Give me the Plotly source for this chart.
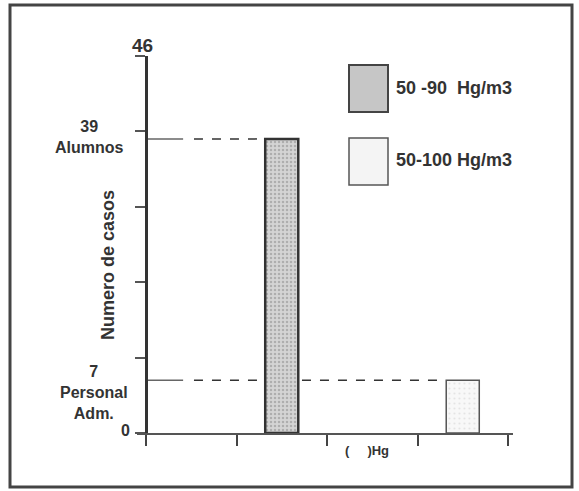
import plotly.graph_objects as go

# ---- data ----
series_names = ["50 -90\u00a0\u00a0Hg/m3", "50-100 Hg/m3"]
groups = ["Alumnos", "Personal<br>Adm."]
values = [39, 7]              # numero de casos
bins = [2, 4]                 # Hg class slot (1-based) where each bar sits
x_bins = [0, 1, 2, 3, 4]      # class boundaries (x ticks)
y_ticks = [0, 10, 20, 30, 40, 50]
y_top_label = "46"

W, H = 579, 491
L, R, T, B = 137, 513, 56, 433   # plot area in px


def px(xp):
    return (xp - L) / (R - L)


def py(yp):
    return (B - yp) / (B - T)


FONT = "Liberation Sans, Arial, sans-serif"
INK = "#333333"
BAR_W = 0.365

xs = [b - 0.5 for b in bins]

fills = [
    dict(color="#d2d2d2", line=dict(color="#333333", width=2.5),
         pattern=dict(shape=".", bgcolor="#d4d4d4", fgcolor="#888888", size=4, solidity=0.3)),
    dict(color="#f7f7f7", line=dict(color="#555555", width=1.5),
         pattern=dict(shape=".", bgcolor="#f8f8f8", fgcolor="#d0d0d0", size=5, solidity=0.15)),
]

fig = go.Figure()
for i in range(len(values)):
    fig.add_trace(go.Bar(x=[xs[i]], y=[values[i]], width=BAR_W, marker=fills[i],
                         name=series_names[i], showlegend=False, hoverinfo="skip"))

shapes = []
# reference level lines (solid start, dashed to bar)
ends = [xs[0] - BAR_W / 2, xs[1] - BAR_W / 2 - 0.07]
for v, e in zip(values, ends):
    shapes.append(dict(type="line", xref="x", yref="y", x0=0, x1=0.41, y0=v, y1=v,
                       layer="below", line=dict(color="#666666", width=1.5)))
    shapes.append(dict(type="line", xref="x", yref="y", x0=0.53, x1=e, y0=v, y1=v,
                       layer="below", line=dict(color="#333333", width=1.5, dash="dash")))
# legend boxes
shapes.append(dict(type="rect", xref="paper", yref="paper", x0=px(349), x1=px(388),
                   y0=py(112), y1=py(65), fillcolor="#c6c6c6", line=dict(color="#444444", width=2)))
shapes.append(dict(type="rect", xref="paper", yref="paper", x0=px(349), x1=px(388),
                   y0=py(185), y1=py(138), fillcolor="#f4f4f4", line=dict(color="#555555", width=1.5)))
# outer frame
shapes.append(dict(type="rect", xref="paper", yref="paper", x0=px(10), x1=px(572),
                   y0=py(487), y1=py(5), line=dict(color="#444444", width=3)))


def ann(text, xp, yp, size, bold=True, xanchor="center", angle=0):
    return dict(text=f"<b>{text}</b>" if bold else text, x=px(xp), y=py(yp),
                xref="paper", yref="paper", showarrow=False, xanchor=xanchor, yanchor="middle",
                textangle=angle, font=dict(family=FONT, size=size, color=INK))


annotations = [
    ann(y_top_label, 142, 45, 19),
    ann(f"{values[0]}<br>{groups[0]}", 89, 137, 16),
    ann(f"{values[1]}<br>{groups[1]}", 94, 392, 16),
    ann(str(y_ticks[0]), 125, 430, 16),
    ann("Numero de casos", 108, 265, 18, angle=-90),
    ann("(\u00a0\u00a0\u00a0\u00a0\u00a0)Hg", 367, 450, 13),
    ann(series_names[0], 394, 88, 18, xanchor="left"),
    ann(series_names[1], 394, 160, 18, xanchor="left"),
]

fig.update_layout(
    width=W, height=H,
    margin=dict(l=L, r=W - R, t=T, b=H - B, autoexpand=False),
    paper_bgcolor="white", plot_bgcolor="white",
    shapes=shapes, annotations=annotations,
    showlegend=False,
    xaxis=dict(range=[-(146 - L) / ((508 - 146) / 4), 4 + (R - 508) / ((508 - 146) / 4)],
               tickvals=x_bins, showticklabels=False, ticks="outside", ticklen=11,
               tickwidth=2, tickcolor="#444444", showline=True, linecolor="#555555",
               linewidth=2, showgrid=False, zeroline=False, fixedrange=True),
    yaxis=dict(range=[0, 50], tickvals=y_ticks, showticklabels=False, ticks="outside",
               ticklen=10, tickwidth=1.5, tickcolor="#555555", showline=True,
               linecolor="#333333", linewidth=2.5, showgrid=False, zeroline=False,
               anchor="free", position=px(146), fixedrange=True),
)

fig.write_html("out.html", config={"displayModeBar": False},
               post_script="document.body.style.margin='0';document.body.style.overflow='hidden';")
